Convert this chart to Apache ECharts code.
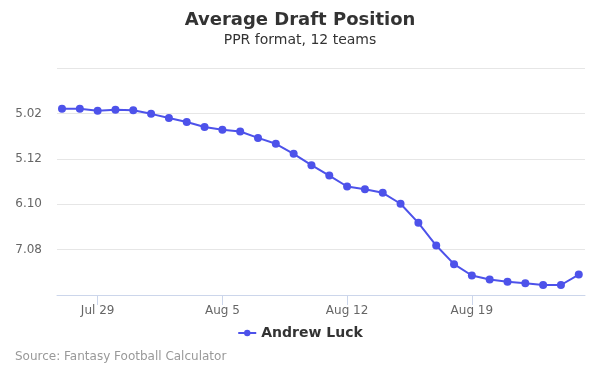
<!DOCTYPE html>
<html><head><meta charset="utf-8">
<script src="https://cdn.jsdelivr.net/npm/echarts@6/dist/echarts.min.js"></script>
<style>html,body{margin:0;padding:0;background:#fff}#c{width:600px;height:375px}</style>
</head><body><div id="c"></div>
<script>
const dates = ['2019-07-27','2019-07-28','2019-07-29','2019-07-30','2019-07-31','2019-08-01','2019-08-02','2019-08-03','2019-08-04','2019-08-05','2019-08-06','2019-08-07','2019-08-08','2019-08-09','2019-08-10','2019-08-11','2019-08-12','2019-08-13','2019-08-14','2019-08-15','2019-08-16','2019-08-17','2019-08-18','2019-08-19','2019-08-20','2019-08-21','2019-08-22','2019-08-23','2019-08-24','2019-08-25'];
const adp = [49.0,49.0,49.4,49.2,49.3,50.1,51.0,51.9,53.0,53.6,54.0,55.4,56.7,58.9,61.4,63.7,66.1,66.7,67.5,69.9,74.1,79.1,83.2,85.7,86.6,87.1,87.4,87.8,87.8,85.5];
const xTickDates = ['2019-07-29','2019-08-05','2019-08-12','2019-08-19'];
const xTickLabels = ['Jul 29','Aug 5','Aug 12','Aug 19'];
const yTickValues = [50,60,70,80];
const yTickLabels = ['5.02','5.12','6.10','7.08'];
const seriesName = 'Andrew Luck';

const DAY = 86400000;
const base = Date.parse(dates[0] + 'T00:00:00Z');
const dayNum = s => Math.round((Date.parse(s + 'T00:00:00Z') - base) / DAY);
const xTicks = xTickDates.map(dayNum);
const chart = echarts.init(document.getElementById('c'), null, {renderer:'canvas'});
chart.setOption({
  animation:false,
  textStyle:{fontFamily:'DejaVu Sans'},
  title:[
    {text:'Average Draft Position', left:'center', top:6, textStyle:{fontSize:18, fontWeight:'bold', color:'#333', fontFamily:'DejaVu Sans'}},
    {text:'PPR format, 12 teams', left:'center', top:28, textStyle:{fontSize:14, fontWeight:'normal', color:'#333', fontFamily:'DejaVu Sans'}},
    {text:'Source: Fantasy Football Calculator', left:10, top:346, textStyle:{fontSize:12, fontWeight:'normal', color:'#999', fontFamily:'DejaVu Sans'}}
  ],
  legend:{data:[seriesName], bottom:30, left:'center', itemWidth:18, itemHeight:8, itemGap:6,
    textStyle:{fontSize:14, fontWeight:'bold', color:'#333', fontFamily:'DejaVu Sans'}},
  grid:{left:57, right:15, top:68, bottom:80, containLabel:false},
  xAxis:{type:'value', min:-0.28, max:dayNum(dates[dates.length-1]) + 0.35,
    axisLine:{lineStyle:{color:'#ccd6eb'}},
    axisTick:{show:true, length:10, lineStyle:{color:'#ccd6eb'}, customValues:xTicks},
    axisLabel:{customValues:xTicks, color:'#666', fontSize:12, margin:10,
      formatter:v => { const i = xTicks.indexOf(v); return i>=0 ? xTickLabels[i] : ''; }},
    splitLine:{show:false}},
  yAxis:{type:'value', inverse:true, min:40, max:90, interval:10,
    axisLine:{show:false}, axisTick:{show:false},
    axisLabel:{color:'#666', fontSize:12, margin:15, showMinLabel:false, showMaxLabel:false,
      formatter:v => { const i = yTickValues.indexOf(v); return i>=0 ? yTickLabels[i] : ''; }},
    splitLine:{lineStyle:{color:'#e6e6e6'}}},
  series:[{name:seriesName, type:'line', data:dates.map((d,i)=>[dayNum(d), adp[i]]),
    symbol:'circle', symbolSize:8, showSymbol:true,
    lineStyle:{width:2, color:'#4d52ea'}, itemStyle:{color:'#4d52ea'}}]
});
</script></body></html>
